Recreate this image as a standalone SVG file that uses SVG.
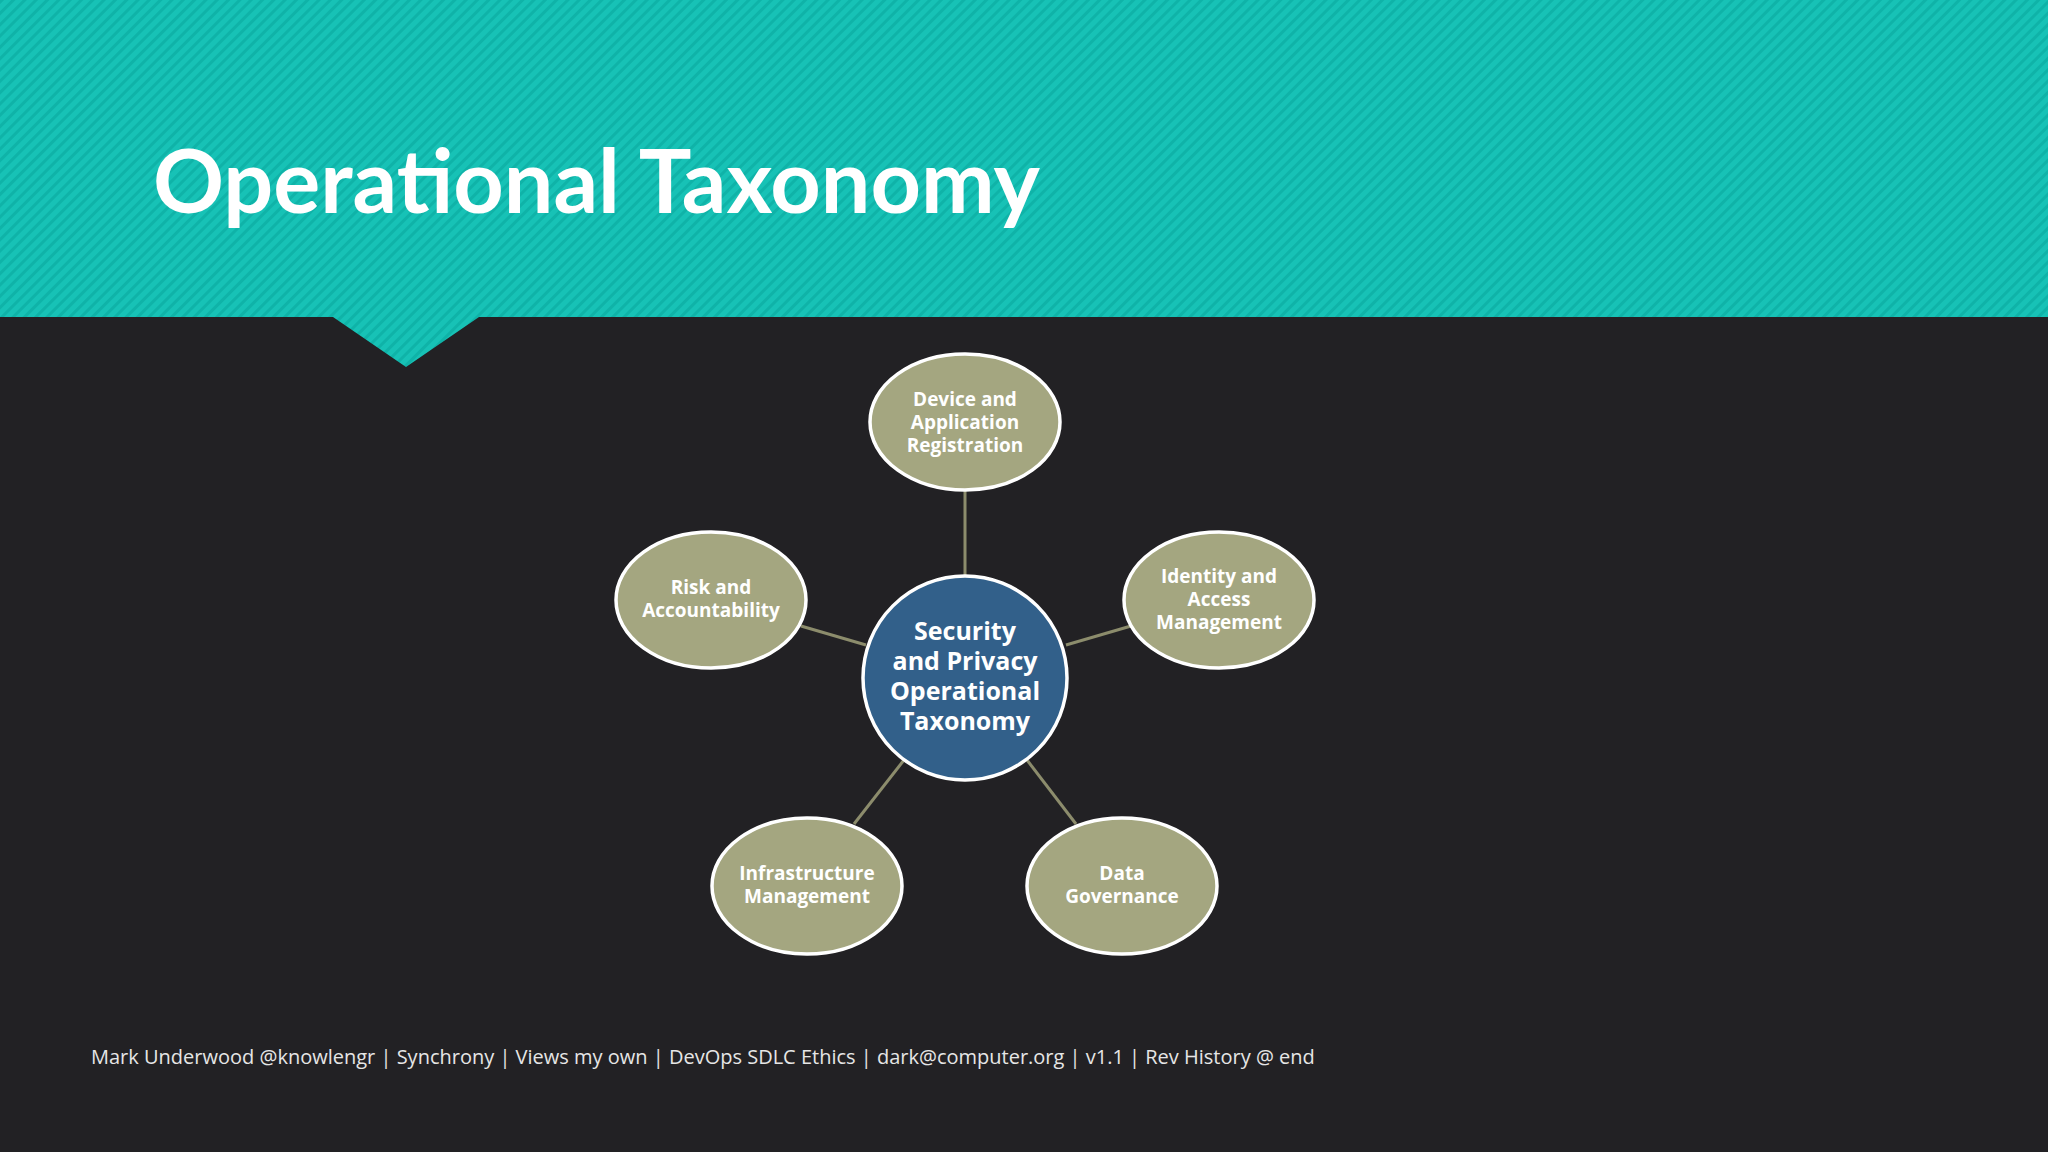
<svg xmlns="http://www.w3.org/2000/svg" width="2048" height="1152" viewBox="0 0 2048 1152">
<defs>
<pattern id="stripes" width="8" height="8" patternUnits="userSpaceOnUse" patternTransform="rotate(45)">
<rect width="8" height="8" fill="#17c2b6"/>
<rect width="3" height="8" fill="#0fb3a8"/>
</pattern>
<style>
.node{fill:#a4a680;stroke:#ffffff;stroke-width:3.5}
.lbl{font-family:"Open Sans","Noto Sans",sans-serif;font-weight:bold;font-size:19px;fill:#ffffff;text-anchor:middle}
.clbl{font-family:"Open Sans","Noto Sans",sans-serif;font-weight:bold;font-size:25px;fill:#ffffff;text-anchor:middle}
.conn{stroke:#8c8c6c;stroke-width:3;fill:none}
</style>
</defs>
<rect width="2048" height="1152" fill="#222124"/>
<path d="M0 0H2048V317H479L406 367L333 317H0Z" fill="url(#stripes)"/>
<text x="153" y="213" font-family="Lato,'Open Sans',sans-serif" font-weight="bold" font-size="88" fill="#ffffff">Operational Taxonomy</text>
<g id="connectors">
<line class="conn" x1="965" y1="491" x2="965" y2="579"/>
<line class="conn" x1="1066" y1="645" x2="1131" y2="626"/>
<line class="conn" x1="866" y1="645" x2="801" y2="626"/>
<line class="conn" x1="904" y1="760" x2="854" y2="824"/>
<line class="conn" x1="1027" y1="760" x2="1076" y2="824"/>
</g>
<g id="center">
<circle cx="965" cy="678" r="102" fill="#32608a" stroke="#ffffff" stroke-width="3.5"/>
<text class="clbl" x="965" y="640">Security</text>
<text class="clbl" x="965" y="670">and Privacy</text>
<text class="clbl" x="965" y="700">Operational</text>
<text class="clbl" x="965" y="730">Taxonomy</text>
</g>
<g id="device">
<ellipse class="node" cx="965" cy="422" rx="95" ry="68"/>
<text class="lbl" x="965" y="406">Device and</text>
<text class="lbl" x="965" y="429">Application</text>
<text class="lbl" x="965" y="452">Registration</text>
</g>
<g id="identity">
<ellipse class="node" cx="1219" cy="600" rx="95" ry="68"/>
<text class="lbl" x="1219" y="583">Identity and</text>
<text class="lbl" x="1219" y="606">Access</text>
<text class="lbl" x="1219" y="629">Management</text>
</g>
<g id="risk">
<ellipse class="node" cx="711" cy="600" rx="95" ry="68"/>
<text class="lbl" x="711" y="594">Risk and</text>
<text class="lbl" x="711" y="617">Accountability</text>
</g>
<g id="infra">
<ellipse class="node" cx="807" cy="886" rx="95" ry="68"/>
<text class="lbl" x="807" y="880">Infrastructure</text>
<text class="lbl" x="807" y="903">Management</text>
</g>
<g id="data">
<ellipse class="node" cx="1122" cy="886" rx="95" ry="68"/>
<text class="lbl" x="1122" y="880">Data</text>
<text class="lbl" x="1122" y="903">Governance</text>
</g>
<text x="91" y="1064" font-family="'Open Sans','Noto Sans',sans-serif" font-size="20" fill="#e6e6e6">Mark Underwood @knowlengr  |  Synchrony  |  Views my own  |  DevOps SDLC Ethics  |  dark@computer.org  |  v1.1  |  Rev History @ end</text>
</svg>
